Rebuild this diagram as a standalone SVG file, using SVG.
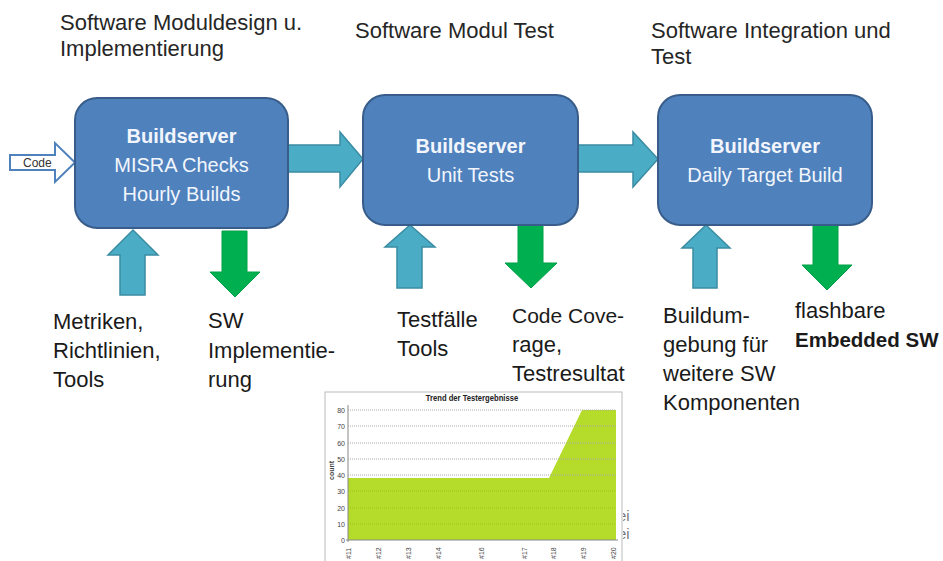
<svg xmlns="http://www.w3.org/2000/svg" width="943" height="561" viewBox="0 0 943 561">
  <style>
    .hdr { font-family: "Liberation Sans", Arial, sans-serif; font-size: 22px; fill: #262626; }
    .lbl { font-family: "Liberation Sans", Arial, sans-serif; font-size: 22px; fill: #1a1a1a; }
    .box { fill: #4F81BD; stroke: #385D8A; stroke-width: 2; }
    .boxt { font-family: "Liberation Sans", Arial, sans-serif; font-size: 20px; fill: #F2F6FC; text-anchor: middle; }
    .bold { font-weight: bold; }
    .flow { fill: #4BACC6; stroke: #3A8CA3; stroke-width: 1.5; }
    .out { fill: #00B050; stroke: #00A048; stroke-width: 1; }
    .code { fill: #FFFFFF; stroke: #4F81BD; stroke-width: 2; }
    .tick { font-family: "Liberation Sans", Arial, sans-serif; font-size: 7px; fill: #444; }
    .grid { stroke: #AAAAAA; stroke-width: 1; stroke-dasharray: 1 1; }
    .frag { font-family: "Liberation Sans", Arial, sans-serif; font-size: 15px; fill: #777; }
  </style>

  <defs>
    <clipPath id="edge-clip">
      <rect x="623" y="500" width="8" height="50"/>
    </clipPath>
  </defs>

  <rect width="943" height="561" fill="#FFFFFF"/>

  <!-- phase headings -->
  <g id="phase-headings">
    <text class="hdr" x="60" y="30">Software Moduldesign u.</text>
    <text class="hdr" x="60" y="56">Implementierung</text>
    <text class="hdr" x="355" y="38">Software Modul Test</text>
    <text class="hdr" x="651" y="38">Software Integration und</text>
    <text class="hdr" x="651" y="64">Test</text>
  </g>

  <!-- connectors: block arrows -->
  <g id="connectors">
    <!-- code input -->
    <path class="code" d="M10,155 H55 V143 L75,162.5 L55,182 V170 H10 Z"/>
    <text x="23" y="167" font-family="'Liberation Sans', Arial, sans-serif" font-size="12" fill="#333">Code</text>
    <!-- box to box -->
    <path class="flow" d="M288,145 H340 V132 L363,159 L340,187 V172 H288 Z"/>
    <path class="flow" d="M578,145 H633 V132 L658,159 L633,187 V172 H578 Z"/>
    <!-- inputs from below -->
    <path class="flow" d="M120,295 V255 H108 L133,230 L158,255 H145 V295 Z"/>
    <path class="flow" d="M397,288 V247 H385 L410,225 L435,247 H422 V288 Z"/>
    <path class="flow" d="M693,288 V248 H682 L706,225 L730,248 H717 V288 Z"/>
    <!-- outputs -->
    <path class="out" d="M222,231 H247 V272 H260 L235,297 L210,272 H222 Z"/>
    <path class="out" d="M518,225 H543 V263 H557 L531,288 L505,263 H518 Z"/>
    <path class="out" d="M813,225 H838 V265 H852 L827,290 L802,265 H813 Z"/>
  </g>

  <!-- build server nodes -->
  <g id="node-moduldesign">
    <rect class="box" x="75" y="98" width="213" height="130" rx="22"/>
    <text class="boxt bold" x="181.5" y="143">Buildserver</text>
    <text class="boxt" x="181.5" y="172">MISRA Checks</text>
    <text class="boxt" x="181.5" y="201">Hourly Builds</text>
  </g>
  <g id="node-modultest">
    <rect class="box" x="363" y="95" width="215" height="130" rx="22"/>
    <text class="boxt bold" x="470.5" y="153">Buildserver</text>
    <text class="boxt" x="470.5" y="182">Unit Tests</text>
  </g>
  <g id="node-integration">
    <rect class="box" x="658" y="95" width="214" height="130" rx="22"/>
    <text class="boxt bold" x="765" y="153">Buildserver</text>
    <text class="boxt" x="765" y="182">Daily Target Build</text>
  </g>

  <!-- labels under the arrows -->
  <g id="labels">
    <text class="lbl" x="53" y="329">Metriken,</text>
    <text class="lbl" x="53" y="358">Richtlinien,</text>
    <text class="lbl" x="53" y="387">Tools</text>
    <text class="lbl" x="208" y="328">SW</text>
    <text class="lbl" x="208" y="358">Implementie-</text>
    <text class="lbl" x="208" y="387">rung</text>
    <text class="lbl" x="397" y="327">Testfälle</text>
    <text class="lbl" x="397" y="356">Tools</text>
    <text class="lbl" x="512" y="323" style="font-size:21px">Code Cove-</text>
    <text class="lbl" x="512" y="352">rage,</text>
    <text class="lbl" x="512" y="381">Testresultat</text>
    <text class="lbl" x="663" y="323">Buildum-</text>
    <text class="lbl" x="663" y="352">gebung für</text>
    <text class="lbl" x="663" y="381">weitere SW</text>
    <text class="lbl" x="663" y="410">Komponenten</text>
    <text class="lbl" x="795" y="318">flashbare</text>
    <text class="lbl bold" x="795" y="347" style="font-size:20.5px">Embedded SW</text>
    <!-- text edges showing beside the chart -->
    <g clip-path="url(#edge-clip)">
      <text class="frag" x="618" y="521">ei</text>
      <text class="frag" x="618" y="539">ei</text>
    </g>
  </g>

  <!-- test result trend chart -->
  <g id="trend-chart">
    <rect x="325" y="392" width="297" height="175" fill="#FFFFFF" stroke="#BBBBBB" stroke-width="1"/>
    <text x="472" y="401" text-anchor="middle" font-family="'Liberation Sans', Arial, sans-serif" font-size="9" font-weight="bold" fill="#222" transform="translate(472 0) scale(0.85 1) translate(-472 0)">Trend der Testergebnisse</text>
    <!-- area -->
    <path d="M348,478 H549 L582,410 H616 V540 H348 Z" fill="#B5DB2B"/>
    <!-- grid -->
    <g class="grid">
      <line x1="348" y1="410" x2="616" y2="410"/>
      <line x1="348" y1="426" x2="616" y2="426"/>
      <line x1="348" y1="443" x2="616" y2="443"/>
      <line x1="348" y1="459" x2="616" y2="459"/>
      <line x1="348" y1="475" x2="616" y2="475"/>
      <line x1="348" y1="491" x2="616" y2="491" stroke="#9BC21E"/>
      <line x1="348" y1="508" x2="616" y2="508" stroke="#9BC21E"/>
      <line x1="348" y1="524" x2="616" y2="524" stroke="#9BC21E"/>
    </g>
    <line x1="348" y1="405" x2="348" y2="542" stroke="#888" stroke-width="1"/>
    <line x1="346" y1="540" x2="618" y2="540" stroke="#888" stroke-width="1"/>
    <g class="tick" text-anchor="end">
      <text x="345" y="413">80</text>
      <text x="345" y="429">70</text>
      <text x="345" y="446">60</text>
      <text x="345" y="462">50</text>
      <text x="345" y="478">40</text>
      <text x="345" y="494">30</text>
      <text x="345" y="511">20</text>
      <text x="345" y="527">10</text>
      <text x="345" y="543">0</text>
    </g>
    <text class="tick" x="0" y="0" transform="translate(334 480) rotate(-90)" font-weight="bold">count</text>
    <g class="tick">
      <text transform="translate(351 559) rotate(-90)">#11</text>
      <text transform="translate(381 559) rotate(-90)">#12</text>
      <text transform="translate(411 559) rotate(-90)">#13</text>
      <text transform="translate(441 559) rotate(-90)">#14</text>
      <text transform="translate(484 559) rotate(-90)">#16</text>
      <text transform="translate(527 559) rotate(-90)">#17</text>
      <text transform="translate(556 559) rotate(-90)">#18</text>
      <text transform="translate(586 559) rotate(-90)">#19</text>
      <text transform="translate(616 559) rotate(-90)">#20</text>
    </g>
  </g>
</svg>
